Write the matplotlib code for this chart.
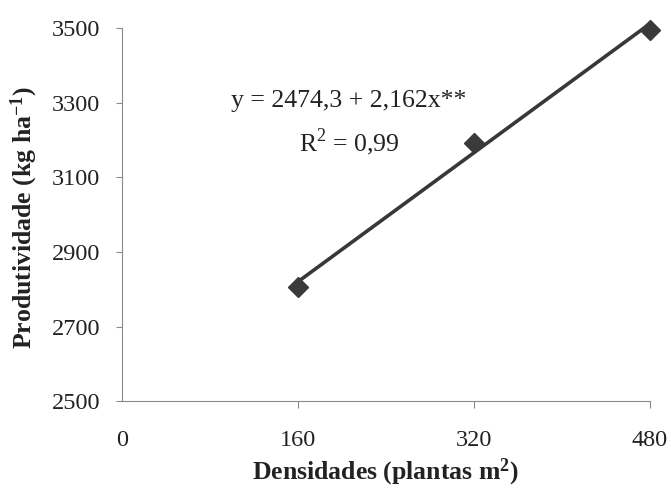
import matplotlib
matplotlib.use("Agg")
import matplotlib.pyplot as plt
import numpy as np

plt.rcParams['font.family'] = ['Liberation Serif', 'DejaVu Serif']
plt.rcParams['mathtext.fontset'] = 'custom'
plt.rcParams['mathtext.rm'] = 'Liberation Serif'
plt.rcParams['mathtext.bf'] = 'Liberation Serif:bold'

# data
densidades = [160, 320, 480]
produtividade = [2805, 3192, 3495]
# fitted line given on the chart
intercepto = 2474.3
inclinacao = 2.162

xticks = [0, 160, 320, 480]
yticks = [2500, 2700, 2900, 3100, 3300, 3500]

fig = plt.figure(figsize=(6.71, 4.88), dpi=100)
ax = fig.add_axes([0.1818, 0.178, 0.7869, 0.7643])

xl = np.array([densidades[0], densidades[-1]])
ax.plot(xl, intercepto + inclinacao * xl, color='#383838', lw=2.6, zorder=2,
        clip_on=False)
ax.plot(densidades, produtividade, linestyle='none', marker='D', ms=10,
        color='#3a3a3a', zorder=3, clip_on=False)

ax.set_xlim(0, 480)
ax.set_ylim(2500, 3500)
ax.set_xticks(xticks)
ax.set_yticks(yticks)
ax.set_xticklabels([str(v) for v in xticks])
ax.set_yticklabels([str(v) for v in yticks])

for s in ['top', 'right']:
    ax.spines[s].set_visible(False)
for s in ['left', 'bottom']:
    ax.spines[s].set_color('#8a8a8a')
    ax.spines[s].set_linewidth(0.8)

ax.tick_params(axis='y', direction='out', length=4.5, width=0.8, color='#8a8a8a',
               pad=11, labelsize=17.5, labelcolor='#222222')
ax.tick_params(axis='x', direction='out', length=5, width=0.8, color='#8a8a8a',
               pad=16, labelsize=17.5, labelcolor='#222222')
ax.xaxis.get_major_ticks()[0].tick1line.set_visible(False)

ax.text(206, 3305, 'y = 2474,3 + 2,162x**', ha='center', va='center',
        fontsize=18.5, color='#222222')
ax.text(207, 3195, r'R$^{2}$ = 0,99', ha='center', va='center',
        fontsize=18.5, color='#222222')

fig.text(385 / 671, 1 - 472 / 488, r'Densidades (plantas m$\mathbf{^{2}}$)',
         ha='center', va='center', fontsize=18.5, fontweight='bold', color='#222222')
fig.text(24 / 671, 1 - 218 / 488, r'Produtividade (kg ha$\mathbf{^{-1}}$)',
         ha='center', va='center', rotation=90, fontsize=18.5, fontweight='bold',
         color='#222222')

fig.savefig('out.png', dpi=100, facecolor='white')
